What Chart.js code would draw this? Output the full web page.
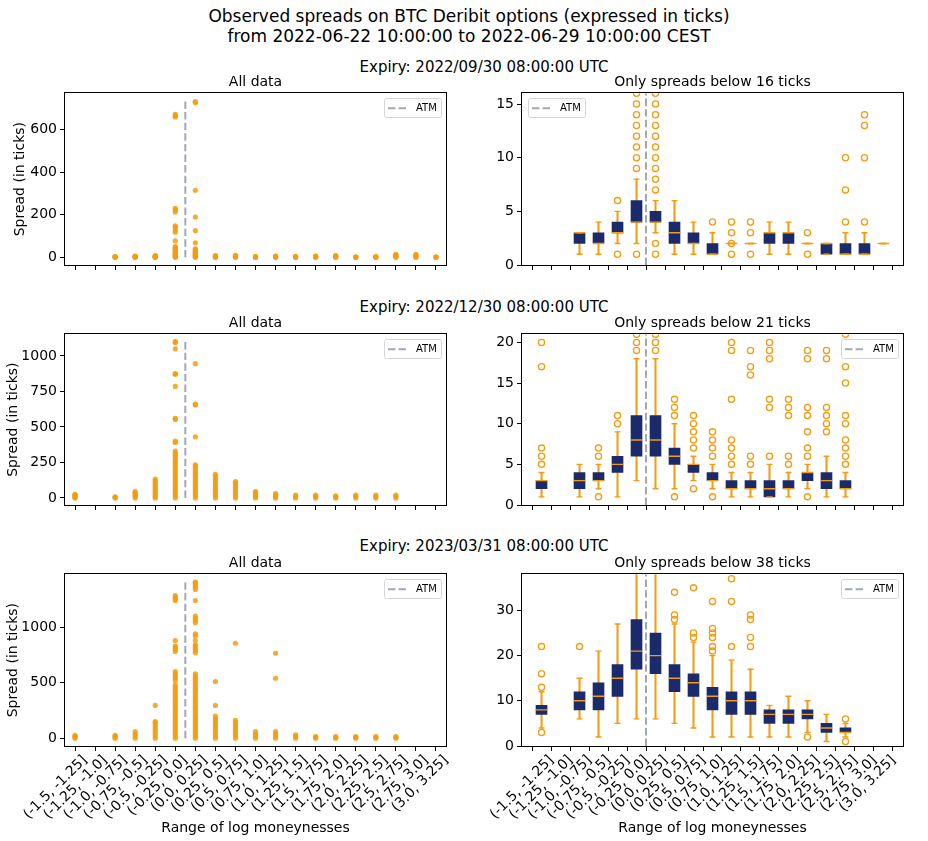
<!DOCTYPE html>
<html>
<head>
<meta charset="utf-8">
<script src="https://cdn.jsdelivr.net/npm/chart.js@4.4.1/dist/chart.umd.min.js"></script>
<style>
  body { margin: 0; background: #fff; }
  #fig { position: relative; width: 928px; height: 841px; background: #fff; font-family: "DejaVu Sans", sans-serif; color: #000; }
  #fig canvas { position: absolute; }
  .suptitle { position: absolute; left: 0; width: 938px; top: 6px; text-align: center; font-size: 17px; line-height: 20px; }
  .rowtitle { position: absolute; left: 65px; width: 838px; text-align: center; font-size: 15px; line-height: 18px; }
</style>
</head>
<body>
<div id="fig">
  <div class="suptitle">Observed spreads on BTC Deribit options (expressed in ticks)<br>from 2022-06-22 10:00:00 to 2022-06-29 10:00:00 CEST</div>
  <div class="rowtitle" style="top:58px">Expiry: 2022/09/30 08:00:00 UTC</div>
  <div class="rowtitle" style="top:298px">Expiry: 2022/12/30 08:00:00 UTC</div>
  <div class="rowtitle" style="top:537px">Expiry: 2023/03/31 08:00:00 UTC</div>
</div>
<script>
// categories (log moneyness bins)
var categories = ['(-1.5, -1.25]', '(-1.25, -1.0]', '(-1.0, -0.75]', '(-0.75, -0.5]', '(-0.5, -0.25]',
    '(-0.25, 0.0]', '(0.0, 0.25]', '(0.25, 0.5]', '(0.5, 0.75]', '(0.75, 1.0]', '(1.0, 1.25]',
    '(1.25, 1.5]', '(1.5, 1.75]', '(1.75, 2.0]', '(2.0, 2.25]', '(2.25, 2.5]', '(2.5, 2.75]',
    '(2.75, 3.0]', '(3.0, 3.25]'];
var atmX = 5.5;

// ---- expiry 2022/09/30 ----
var allSpreads1 = [[], [], [0, 1, 2, 3], [0, 1, 2, 3, 4, 6], [0, 1, 2, 3, 4, 5, 6, 8],
    [0, 3, 6, 9, 12, 16, 20, 25, 30, 35, 40, 45, 50, 77, 118, 128, 140, 148, 213, 222, 230, 658, 664, 670],
    [0, 3, 6, 10, 14, 18, 22, 26, 30, 35, 40, 68, 125, 189, 314, 725, 730],
    [0, 2, 4, 6, 8], [0, 2, 4, 6, 9], [0, 1, 2, 3], [0, 2, 4, 6], [0, 1, 2, 4], [0, 2, 4, 6],
    [0, 2, 4, 6, 8], [0, 1, 2], [0, 1, 2, 3], [0, 3, 6, 10, 14], [0, 3, 6, 10, 14], [0, 1, 2]];
var whiskerLo1 = [null, null, 1, 1, 2, 2, 3, 1, 1, 1, 2, 2, 1, 1, 2, 1, 1, 1, 2];
var q1_1 = [null, null, 2, 2, 3, 4, 4, 2, 2, 1, 2, 2, 2, 2, 2, 1, 1, 1, 2];
var median1 = [null, null, 3, 2, 3, 4, 4, 3, 2, 1, 2, 2, 3, 3, 2, 2, 1, 1, 2];
var q3_1 = [null, null, 3, 3, 4, 6, 5, 4, 3, 2, 2, 2, 3, 3, 2, 2, 2, 2, 2];
var whiskerHi1 = [null, null, 3, 4, 5, 8, 6, 6, 4, 3, 2, 2, 4, 4, 2, 2, 3, 3, 2];
var outliers1 = [[], [], [], [], [1, 6], [1, 9, 10, 11, 12, 13, 14, 15, 16],
    [1, 2, 7, 8, 9, 10, 11, 12, 13, 14, 15, 16], [], [], [4], [1, 2, 3, 4], [1, 3, 4], [], [], [1, 3],
    [], [4, 7, 10], [4, 10, 13, 14], []];

// ---- expiry 2022/12/30 ----
var allSpreads2 = [[0, 5, 10, 15, 20, 25], [], [0, 4, 8], [0, 10, 20, 30, 38, 45],
    [0, 12, 24, 36, 48, 60, 72, 84, 96, 108, 120, 132],
    [0, 15, 30, 45, 60, 75, 90, 105, 120, 135, 150, 165, 180, 195, 210, 225, 240, 255, 270, 285, 300, 315, 330,
        390, 400, 552, 560, 785, 870, 875, 1050, 1095, 1100],
    [0, 15, 30, 45, 60, 75, 90, 105, 120, 135, 150, 165, 180, 195, 210, 225, 232, 430, 655, 660, 945],
    [0, 15, 30, 45, 60, 75, 90, 105, 120, 135, 150, 165], [0, 15, 30, 45, 60, 75, 90, 105, 115],
    [0, 10, 20, 30, 40, 45], [0, 10, 20, 30], [0, 10, 20], [0, 10, 20], [0, 8, 15], [0, 10, 20],
    [0, 10, 20], [0, 10, 20], [], []];
var whiskerLo2 = [1, null, 1, 2, 1, 3, 2, 2, 3, 2, 1, 1, 1, 1, 2, 1, 1, null, null];
var q1_2 = [2, null, 2, 3, 4, 6, 6, 5, 4, 3, 2, 2, 1, 2, 3, 2, 2, null, null];
var median2 = [3, null, 3, 3, 5, 8, 8, 6, 5, 3, 2, 2, 2, 2, 4, 3, 2, null, null];
var q3_2 = [3, null, 4, 4, 6, 11, 11, 7, 5, 4, 3, 3, 3, 3, 4, 4, 3, null, null];
var whiskerHi2 = [4, null, 5, 5, 9, 18, 18, 10, 6, 5, 4, 4, 5, 4, 5, 6, 4, null, null];
var outliers2 = [[5, 6, 7, 17, 20], [], [], [1, 6, 7], [10, 11], [19, 20, 21], [19, 20, 21], [1, 11, 12, 13],
    [2, 7, 8, 9, 10, 11], [1, 6, 7, 8, 9], [5, 6, 7, 8, 13, 19, 20], [5, 6, 16, 17, 19],
    [6, 12, 13, 18, 19, 20], [5, 6, 11, 12, 13], [1, 6, 7, 9, 11, 12, 18, 19], [9, 10, 11, 12, 18, 19],
    [5, 6, 7, 8, 10, 11, 15, 17, 21], [], []];

// ---- expiry 2023/03/31 ----
var allSpreads3 = [[0, 10, 20, 25], [], [0, 10, 20, 25], [0, 20, 40, 60],
    [0, 20, 40, 60, 80, 100, 120, 140, 150, 295],
    [0, 20, 40, 60, 80, 100, 120, 140, 160, 180, 200, 220, 240, 260, 280, 300, 320, 340, 360, 380, 400, 420,
        440, 460, 480, 520, 540, 560, 580, 600, 780, 800, 815, 830, 880, 1240, 1255, 1270, 1285],
    [0, 20, 40, 60, 80, 100, 120, 140, 160, 180, 200, 220, 240, 260, 280, 300, 320, 340, 360, 380, 400, 420,
        440, 460, 480, 500, 520, 540, 560, 580, 770, 790, 810, 830, 840, 880, 920, 940, 1040, 1060, 1080,
        1100, 1240, 1340, 1360, 1380, 1400, 1405],
    [0, 20, 40, 60, 80, 100, 120, 140, 160, 180, 200, 295, 510], [0, 20, 40, 60, 80, 100, 120, 140, 160, 855],
    [0, 20, 40, 60], [0, 20, 40, 60, 540, 765], [0, 15, 30], [0, 8, 15], [0, 8, 15], [0, 8, 15],
    [0, 8, 15], [0, 8, 15], [], []];
var whiskerLo3 = [4, null, 6, 2, 5, 6, 6, 5, 4, 2, 2, 2, 2, 2, 3, 1, 2, null, null];
var q1_3 = [7, null, 8, 8, 11, 17, 16, 12, 11, 8, 7, 7, 5, 5, 6, 3, 3, null, null];
var median3 = [8, null, 10, 11, 15, 21, 20, 15, 14, 11, 10, 10, 7, 7, 7, 4, 3, null, null];
var q3_3 = [9, null, 12, 14, 18, 28, 25, 18, 16, 13, 12, 12, 8, 8, 8, 5, 4, null, null];
var whiskerHi3 = [12, null, 15, 21, 27, 45, 42, 27, 23, 20, 19, 17, 9, 11, 10, 7, 5, null, null];
var outliers3 = [[3, 13, 16, 22], [], [22], [], [], [], [], [28, 29, 34], [24, 25, 35],
    [21, 22, 24, 25, 26, 32], [22, 32, 37], [22, 24, 28, 29], [], [], [2], [], [1, 6], [], []];

// axis ranges and tick labels
var yRangeAll = [[-36, 769], [-50, 1152], [-70, 1476]];
var yTicksAll = [[0, 200, 400, 600], [0, 250, 500, 750, 1000], [0, 500, 1000]];
var atmTopAll = [733, 1100, 1405];
var spreadCaps = [16, 21, 38];
var yTicksBelow = [[0, 5, 10, 15], [0, 5, 10, 15, 20], [0, 10, 20, 30]];

var orange = 'rgb(243, 156, 18)';
var orangeDot = 'rgba(243, 156, 18, 0.85)';
var navy = 'rgb(27, 42, 107)';
var atmGrey = 'rgb(160, 168, 182)';

Chart.defaults.font.family = '"DejaVu Sans", sans-serif';
Chart.defaults.font.size = 14;
Chart.defaults.color = '#000';

var frameAndLegend = {
    id: 'frameAndLegend',
    afterDraw: function (chart, args, opts) {
        var a = chart.chartArea, ctx = chart.ctx;
        ctx.save();
        ctx.strokeStyle = '#000';
        ctx.lineWidth = 1;
        ctx.strokeRect(Math.round(a.left) - 0.5, Math.round(a.top) - 0.5, Math.round(a.right - a.left) + 1, Math.round(a.bottom - a.top) + 1);
        var w = 57, h = 19;
        var x = opts.corner === 'left' ? a.left + 6 : a.right - 5 - w;
        var y = a.top + 5;
        ctx.beginPath();
        ctx.roundRect(Math.round(x) + 0.5, Math.round(y) + 0.5, w, h, 2);
        ctx.fillStyle = 'rgba(255,255,255,0.8)';
        ctx.fill();
        ctx.strokeStyle = '#d6d6d6';
        ctx.stroke();
        ctx.beginPath();
        ctx.setLineDash([7.4, 3.2]);
        ctx.strokeStyle = atmGrey;
        ctx.lineWidth = 2;
        ctx.moveTo(x + 4, y + h / 2 + 0.5);
        ctx.lineTo(x + 23, y + h / 2 + 0.5);
        ctx.stroke();
        ctx.setLineDash([]);
        ctx.fillStyle = '#000';
        ctx.font = '10px "DejaVu Sans", sans-serif';
        ctx.textBaseline = 'middle';
        ctx.fillText('ATM', x + 32, y + h / 2 + 1);
        ctx.restore();
    }
};

function pointsFromGroups(groups) {
    var pts = [];
    groups.forEach(function (vals, i) {
        vals.forEach(function (v) { pts.push({x: i, y: v}); });
    });
    return pts;
}

function pointsFromValues(vals) {
    var pts = [];
    vals.forEach(function (v, i) { if (v !== null) pts.push({x: i, y: v}); });
    return pts;
}

function rangesFromValues(lo, hi) {
    var pts = [];
    lo.forEach(function (v, i) { if (v !== null) pts.push({x: i, y: [v, hi[i]]}); });
    return pts;
}

function atmDataset(top) {
    return {
        type: 'line', data: [{x: atmX, y: 0}, {x: atmX, y: top}],
        borderColor: atmGrey, borderWidth: 2, borderDash: [7.4, 3.2],
        pointRadius: 0, clip: 0, order: 0
    };
}

function scatterDatasets(groups, atmTop) {
    return [
        atmDataset(atmTop),
        {
            data: pointsFromGroups(groups), pointRadius: 2.6,
            backgroundColor: orangeDot, borderWidth: 0, order: 1
        }
    ];
}

function boxDatasets(lo, q1, med, q3, hi, outliers, cap) {
    return [
        atmDataset(cap),
        {
            data: pointsFromGroups(outliers), pointStyle: 'circle', pointRadius: 3.1,
            pointBackgroundColor: 'rgba(0,0,0,0)', pointBorderColor: orange, pointBorderWidth: 1.3,
            clip: 0, order: 1
        },
        {
            data: pointsFromValues(med), pointStyle: 'line', pointRadius: 5.5,
            pointBorderColor: orange, pointBorderWidth: 1.4, clip: 0, order: 2
        },
        {
            data: pointsFromValues(lo).concat(pointsFromValues(hi)), pointStyle: 'line', pointRadius: 3,
            pointBorderColor: orange, pointBorderWidth: 1.4, clip: 0, order: 3
        },
        {
            type: 'bar', data: rangesFromValues(q1, q3), backgroundColor: navy, borderWidth: 0,
            barThickness: 11, grouped: false, clip: 0, order: 4
        },
        {
            type: 'bar', data: rangesFromValues(lo, hi), backgroundColor: orange, borderWidth: 0,
            barThickness: 1.4, grouped: false, clip: 0, order: 5
        }
    ];
}

function makePanel(p) {
    var canvas = document.createElement('canvas');
    canvas.width = p.width;
    canvas.height = p.height;
    canvas.style.left = p.left + 'px';
    canvas.style.top = p.top + 'px';
    document.getElementById('fig').appendChild(canvas);

    return new Chart(canvas, {
        type: 'scatter',
        data: {datasets: p.datasets},
        options: {
            responsive: false,
            animation: false,
            events: [],
            layout: {padding: {right: p.padRight}},
            plugins: {
                legend: {display: false},
                tooltip: {enabled: false},
                title: {
                    display: true, text: p.title, fullSize: false,
                    font: {size: 14, weight: 'normal'}, padding: {top: 0, bottom: 2.5}
                },
                frameAndLegend: {corner: p.corner}
            },
            scales: {
                x: {
                    type: 'linear', min: -0.5, max: 18.5,
                    afterBuildTicks: function (scale) {
                        scale.ticks = categories.map(function (c, i) { return {value: i}; });
                    },
                    afterFit: function (scale) { scale.height = p.xHeight; },
                    grid: {drawOnChartArea: false, color: '#000', tickLength: 5},
                    border: {display: false},
                    ticks: {
                        display: p.showX, autoSkip: false, minRotation: 45, maxRotation: 45, padding: 1,
                        labelOffset: 10, font: {size: 14},
                        callback: function (v) { return categories[v]; }
                    },
                    title: {display: p.showX, text: 'Range of log moneynesses', font: {size: 14}}
                },
                y: {
                    type: 'linear', min: p.yMin, max: p.yMax,
                    afterBuildTicks: function (scale) {
                        scale.ticks = p.yTicks.map(function (v) { return {value: v}; });
                    },
                    afterFit: function (scale) { scale.width = p.yWidth; },
                    grid: {drawOnChartArea: false, color: '#000', tickLength: 5},
                    border: {display: false},
                    ticks: {
                        padding: 3, font: {size: 14},
                        callback: function (v) { return String(v); }
                    },
                    title: {
                        display: p.yTitle, text: 'Spread (in ticks)', font: {size: 14},
                        padding: {top: p.yTitlePad, bottom: 0}
                    }
                }
            }
        },
        plugins: [frameAndLegend]
    });
}

var rowTops = [74, 315, 555];
var rowHeights = [205, 205, 286];
var xHeights = [14, 15, 95];
var yTitlePads = [12, 4.5, 4.5];
var boxRows = [
    [whiskerLo1, q1_1, median1, q3_1, whiskerHi1, outliers1],
    [whiskerLo2, q1_2, median2, q3_2, whiskerHi2, outliers2],
    [whiskerLo3, q1_3, median3, q3_3, whiskerHi3, outliers3]
];
var scatterRows = [allSpreads1, allSpreads2, allSpreads3];

for (var r = 0; r < 3; r++) {
    makePanel({
        left: 0, top: rowTops[r], width: 460, height: rowHeights[r], padRight: 14,
        yWidth: 65, xHeight: xHeights[r], showX: r === 2, title: 'All data',
        yMin: yRangeAll[r][0], yMax: yRangeAll[r][1], yTicks: yTicksAll[r],
        yTitle: true, yTitlePad: yTitlePads[r], corner: 'right',
        datasets: scatterDatasets(scatterRows[r], atmTopAll[r])
    });
    var b = boxRows[r];
    makePanel({
        left: 460, top: rowTops[r], width: 468, height: rowHeights[r], padRight: 25,
        yWidth: 62, xHeight: xHeights[r], showX: r === 2,
        title: 'Only spreads below ' + spreadCaps[r] + ' ticks',
        yMin: 0, yMax: spreadCaps[r], yTicks: yTicksBelow[r],
        yTitle: false, yTitlePad: 0, corner: r === 0 ? 'left' : 'right',
        datasets: boxDatasets(b[0], b[1], b[2], b[3], b[4], b[5], spreadCaps[r])
    });
}
</script>
</body>
</html>
